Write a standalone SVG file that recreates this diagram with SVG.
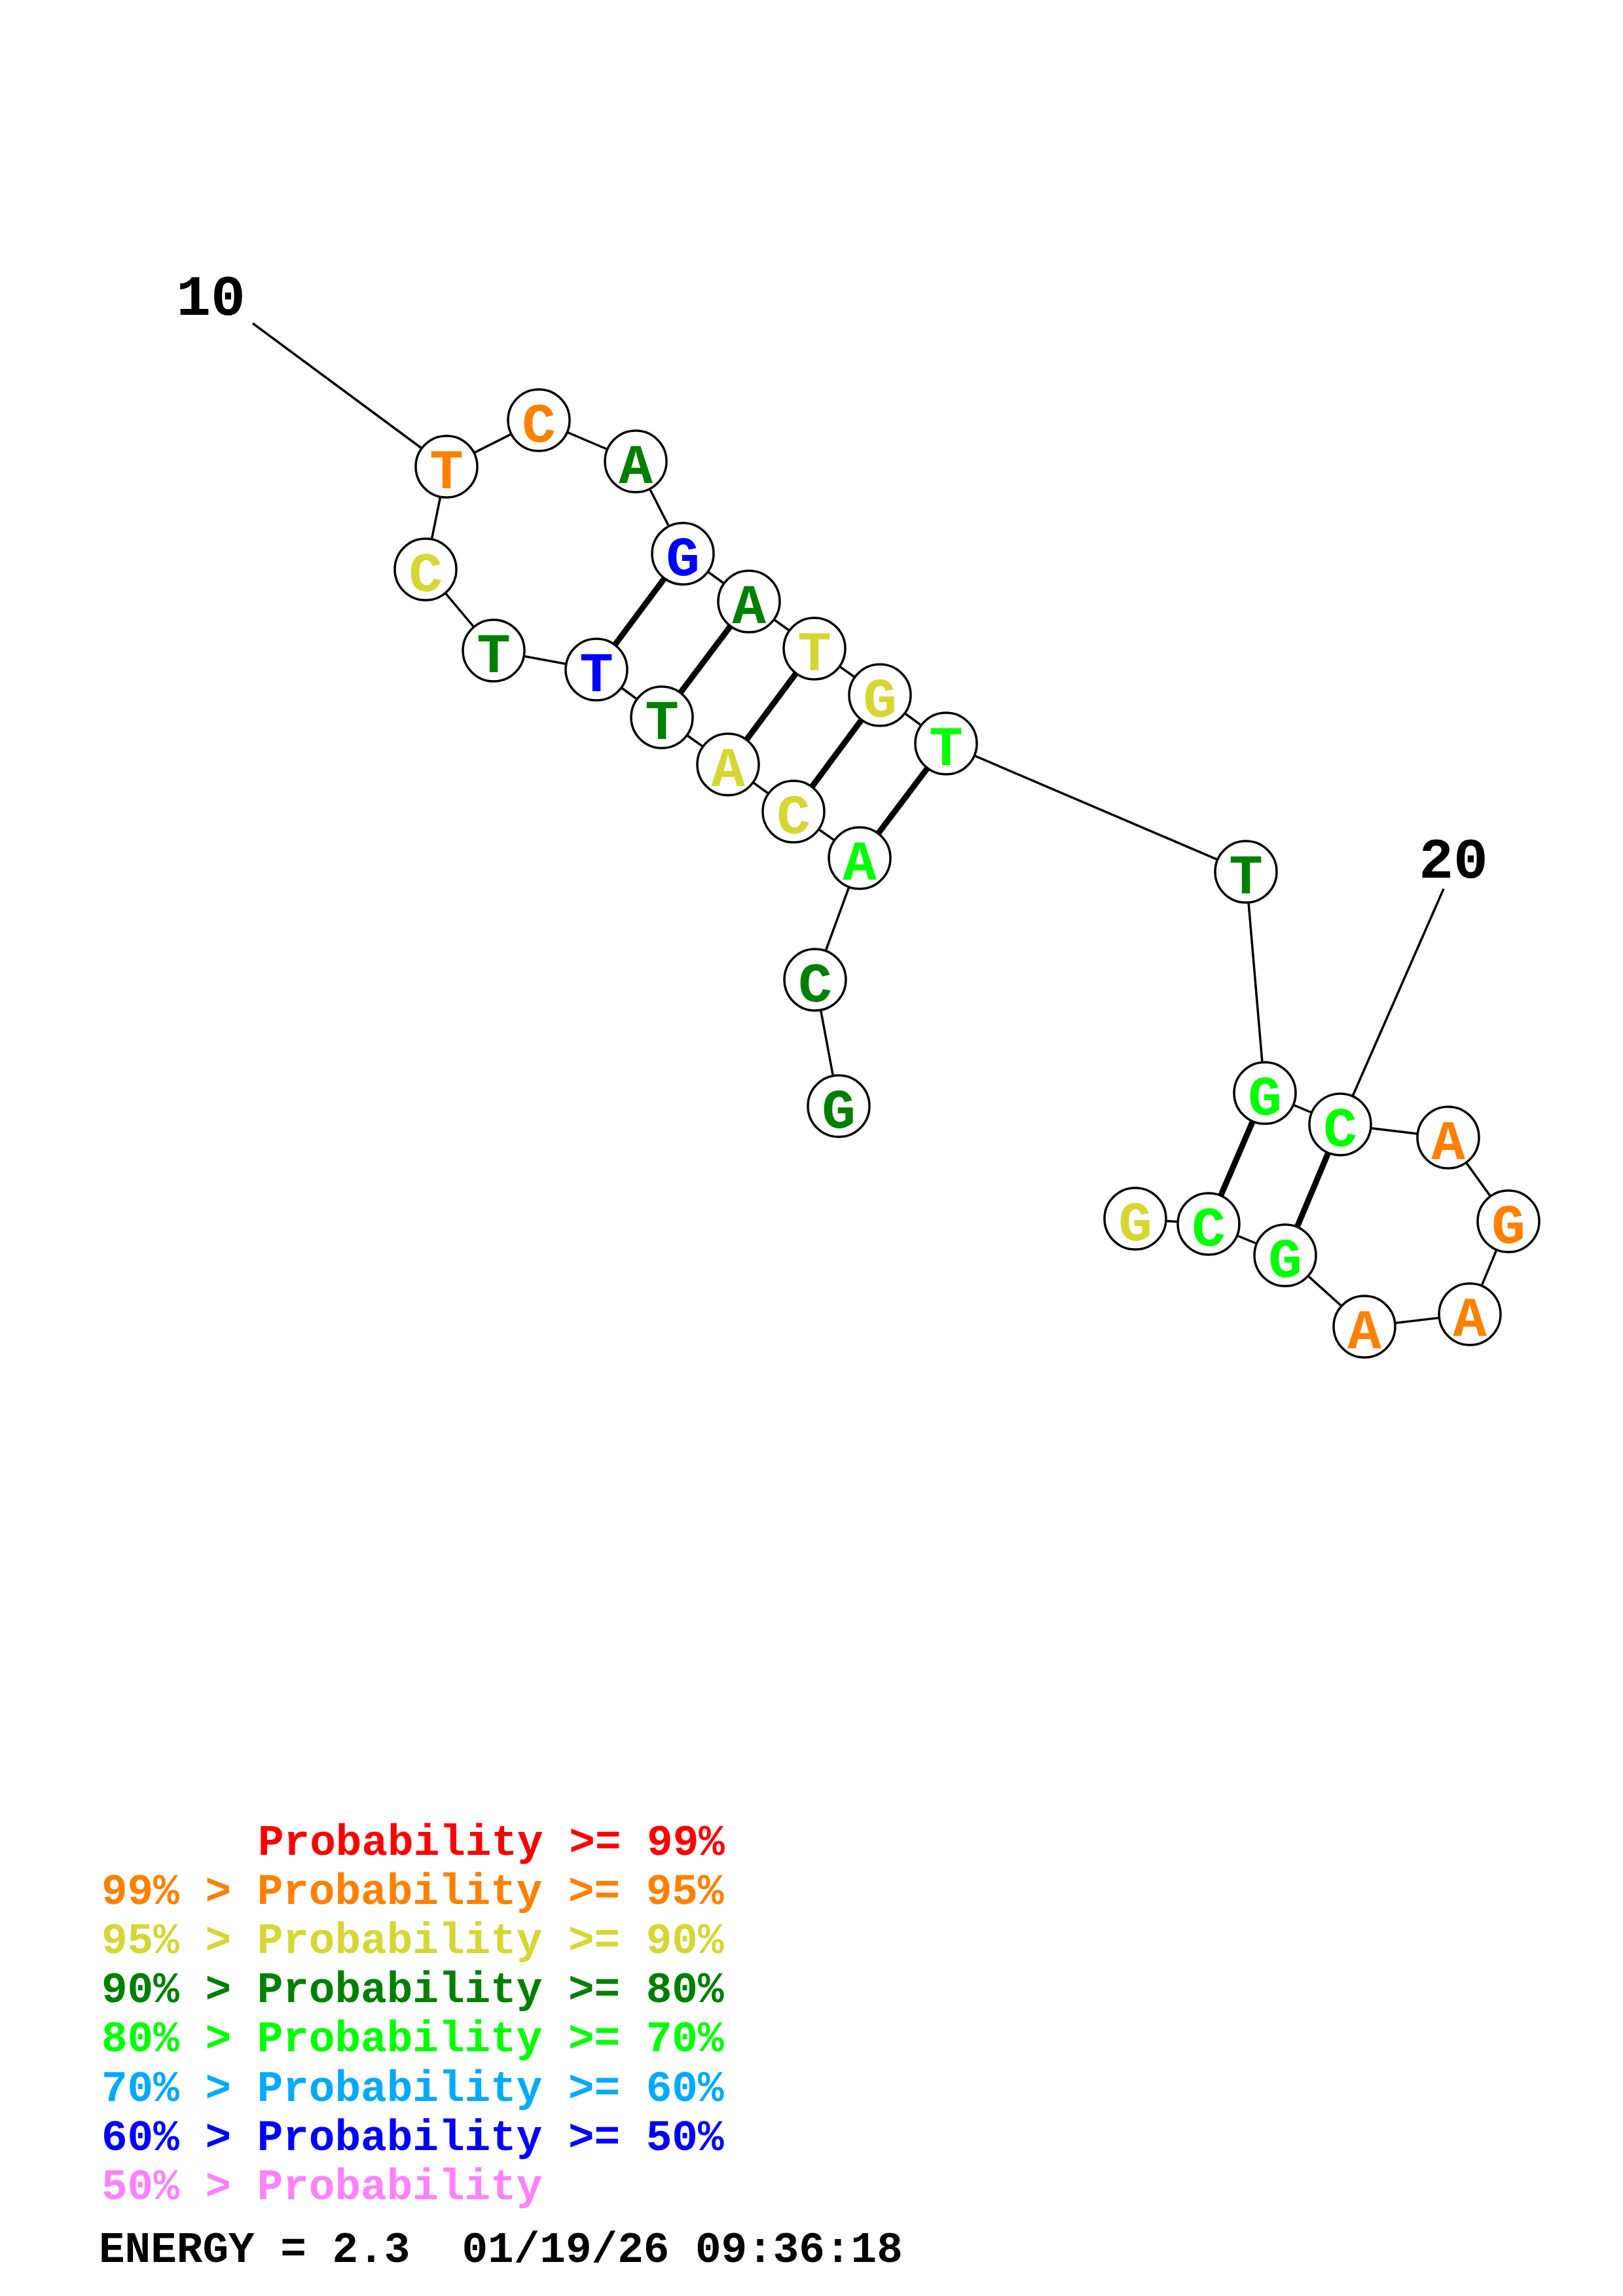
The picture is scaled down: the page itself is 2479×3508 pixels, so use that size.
<svg xmlns="http://www.w3.org/2000/svg" width="2479" height="3508" viewBox="0 0 2479 3508">
<style>
.bb{stroke:#000;stroke-width:3.5;fill:none}
.bp{stroke:#000;stroke-width:9;fill:none}
.nd circle{fill:#fff;stroke:#000;stroke-width:3.5}
.nd text{font-family:"Liberation Mono","Courier New",monospace;font-weight:bold;font-size:86px;text-anchor:middle}
.lbl{font-family:"Liberation Mono","Courier New",monospace;font-weight:bold;font-size:88px;text-anchor:middle;fill:#000}
.lg{font-family:"Liberation Mono","Courier New",monospace;font-weight:bold;font-size:66px}
.or{fill:#FF8000}.ye{fill:#D6D633}.dg{fill:#008000}.gr{fill:#00FF00}.bl{fill:#0000FF}.lb{fill:#00AAFF}.rd{fill:#FF0000}.pk{fill:#FF80FF}
</style>
<rect width="2479" height="3508" fill="#fff"/>
<g id="connectors">
<line class="bb" x1="386" y1="494" x2="682" y2="713"/>
<line class="bb" x1="2205" y1="1358" x2="2047" y2="1718"/>
<polyline class="bb" points="1281,1690 1245,1497 1313,1311 1212,1240 1112,1168 1011,1096 911,1023 754,994 650,870 682,713 823,642 971,705 1043,846 1144,919 1244,991 1344,1062 1445,1136 1903,1332 1932,1670 2047,1718 2212,1738 2304,1866 2245,2008 2084,2027 1963,1918 1846,1870 1734,1862"/>
<line class="bp" x1="1043" y1="846" x2="911" y2="1023"/>
<line class="bp" x1="1144" y1="919" x2="1011" y2="1096"/>
<line class="bp" x1="1244" y1="991" x2="1112" y2="1168"/>
<line class="bp" x1="1344" y1="1062" x2="1212" y2="1240"/>
<line class="bp" x1="1445" y1="1136" x2="1313" y2="1311"/>
<line class="bp" x1="1932" y1="1670" x2="1846" y2="1870"/>
<line class="bp" x1="2047" y1="1718" x2="1963" y2="1918"/>
</g>
<g id="n1" class="nd"><circle cx="1281" cy="1690" r="47"/><text x="1281" y="1723" class="dg">G</text></g>
<g id="n2" class="nd"><circle cx="1245" cy="1497" r="47"/><text x="1245" y="1530" class="dg">C</text></g>
<g id="n3" class="nd"><circle cx="1313" cy="1311" r="47"/><text x="1313" y="1344" class="gr">A</text></g>
<g id="n4" class="nd"><circle cx="1212" cy="1240" r="47"/><text x="1212" y="1273" class="ye">C</text></g>
<g id="n5" class="nd"><circle cx="1112" cy="1168" r="47"/><text x="1112" y="1201" class="ye">A</text></g>
<g id="n6" class="nd"><circle cx="1011" cy="1096" r="47"/><text x="1011" y="1129" class="dg">T</text></g>
<g id="n7" class="nd"><circle cx="911" cy="1023" r="47"/><text x="911" y="1056" class="bl">T</text></g>
<g id="n8" class="nd"><circle cx="754" cy="994" r="47"/><text x="754" y="1027" class="dg">T</text></g>
<g id="n9" class="nd"><circle cx="650" cy="870" r="47"/><text x="650" y="903" class="ye">C</text></g>
<g id="n10" class="nd"><circle cx="682" cy="713" r="47"/><text x="682" y="746" class="or">T</text></g>
<g id="n11" class="nd"><circle cx="823" cy="642" r="47"/><text x="823" y="675" class="or">C</text></g>
<g id="n12" class="nd"><circle cx="971" cy="705" r="47"/><text x="971" y="738" class="dg">A</text></g>
<g id="n13" class="nd"><circle cx="1043" cy="846" r="47"/><text x="1043" y="879" class="bl">G</text></g>
<g id="n14" class="nd"><circle cx="1144" cy="919" r="47"/><text x="1144" y="952" class="dg">A</text></g>
<g id="n15" class="nd"><circle cx="1244" cy="991" r="47"/><text x="1244" y="1024" class="ye">T</text></g>
<g id="n16" class="nd"><circle cx="1344" cy="1062" r="47"/><text x="1344" y="1095" class="ye">G</text></g>
<g id="n17" class="nd"><circle cx="1445" cy="1136" r="47"/><text x="1445" y="1169" class="gr">T</text></g>
<g id="n18" class="nd"><circle cx="1903" cy="1332" r="47"/><text x="1903" y="1365" class="dg">T</text></g>
<g id="n19" class="nd"><circle cx="1932" cy="1670" r="47"/><text x="1932" y="1703" class="gr">G</text></g>
<g id="n20" class="nd"><circle cx="2047" cy="1718" r="47"/><text x="2047" y="1751" class="gr">C</text></g>
<g id="n21" class="nd"><circle cx="2212" cy="1738" r="47"/><text x="2212" y="1771" class="or">A</text></g>
<g id="n22" class="nd"><circle cx="2304" cy="1866" r="47"/><text x="2304" y="1899" class="or">G</text></g>
<g id="n23" class="nd"><circle cx="2245" cy="2008" r="47"/><text x="2245" y="2041" class="or">A</text></g>
<g id="n24" class="nd"><circle cx="2084" cy="2027" r="47"/><text x="2084" y="2060" class="or">A</text></g>
<g id="n25" class="nd"><circle cx="1963" cy="1918" r="47"/><text x="1963" y="1951" class="gr">G</text></g>
<g id="n26" class="nd"><circle cx="1846" cy="1870" r="47"/><text x="1846" y="1903" class="gr">C</text></g>
<g id="n27" class="nd"><circle cx="1734" cy="1862" r="47"/><text x="1734" y="1895" class="ye">G</text></g>
<g id="labels">
<text class="lbl" x="322" y="481">10</text>
<text class="lbl" x="2220" y="1341">20</text>
</g>
<g id="legend">
<text class="lg rd" x="394" y="2834">Probability &gt;= 99%</text>
<text class="lg or" x="155" y="2909">99% &gt; Probability &gt;= 95%</text>
<text class="lg ye" x="155" y="2984">95% &gt; Probability &gt;= 90%</text>
<text class="lg dg" x="155" y="3059">90% &gt; Probability &gt;= 80%</text>
<text class="lg gr" x="155" y="3134">80% &gt; Probability &gt;= 70%</text>
<text class="lg lb" x="155" y="3210">70% &gt; Probability &gt;= 60%</text>
<text class="lg bl" x="155" y="3285">60% &gt; Probability &gt;= 50%</text>
<text class="lg pk" x="155" y="3360">50% &gt; Probability</text>
<text class="lg" x="151" y="3456" fill="#000" xml:space="preserve">ENERGY = 2.3  01/19/26 09:36:18</text>
</g>
</svg>
